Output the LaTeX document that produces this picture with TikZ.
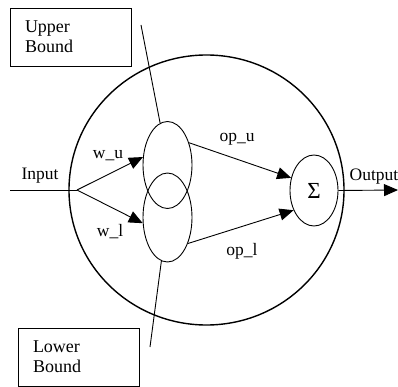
\documentclass[tikz,border=0pt]{standalone}
\usepackage{fontspec}
\setmainfont{Liberation Serif}
\usetikzlibrary{positioning, arrows.meta, shapes.geometric}
\tikzset{
  boundbox/.style={
    rectangle, draw, line width=0.8pt,
    minimum width=121pt, minimum height=58pt,
    text width=91pt, inner xsep=15pt,
    align=left, font=\fontsize{18}{20}\selectfont
  },
  gate/.style={
    ellipse, draw, line width=0.9pt, inner sep=0pt,
    minimum width=49pt, minimum height=87pt
  },
  wire/.style={draw, line width=0.9pt},
  wirearrow/.style={
    wire, -{Triangle[length=14pt, width=12pt]}
  },
  lbl/.style={font=\fontsize{17.5}{20}\selectfont, inner sep=1pt}
}

\begin{document}
\begin{tikzpicture}[x=1pt, y=-1pt]
  \useasboundingbox (0,0) rectangle (398,387);

  % outer neuron
  \node[ellipse, draw, line width=1.4pt, minimum width=275pt,
        minimum height=270pt] (cell) at (206.5,190) {};

  \node[boundbox] (ub) at (70.5,37) {Upper\\Bound};
  \node[boundbox] (lb) at (78.5,357) {Lower\\Bound};

  \node[gate] (upper) at (167.5,165) {};
  \node[gate, minimum height=89pt] (lower) at (167.5,217.5) {};
  \node[ellipse, draw, line width=0.9pt, inner sep=0pt,
        minimum width=48pt, minimum height=71pt,
        font=\fontsize{23}{26}\selectfont] (sigma) at (314,190.5) {Σ};

  \coordinate (in) at (10,190);
  \coordinate (split) at (77,190);
  \coordinate (ubend) at (141,25);
  \coordinate (lbend) at (150,347);
  \coordinate (out) at (398,190);

  \draw[wire] (in) -- (split);
  \draw[wirearrow] (split) -- (upper.162);
  \draw[wirearrow] (split) -- (lower.193);
  \draw[wirearrow] (upper.46) -- (sigma.151);
  \draw[wirearrow] (lower.308) -- (sigma.224);
  \draw[wirearrow] (sigma.east) -- (out);
  \draw[wire] (ubend) -- (upper.100);
  \draw[wire] (lower.262) -- (lbend);

  % labels
  \node[lbl] (inlbl) at (40,176) {Input};
  \node[lbl] (wu) at (108,156) {w\_u};
  \node[lbl] (wl) at (110,232) {w\_l};
  \node[lbl] (opu) at (237,139) {op\_u};
  \node[lbl] (opl) at (242,251) {op\_l};
  \node[lbl] (outlbl) at (374,177) {Output};
\end{tikzpicture}
\end{document}
